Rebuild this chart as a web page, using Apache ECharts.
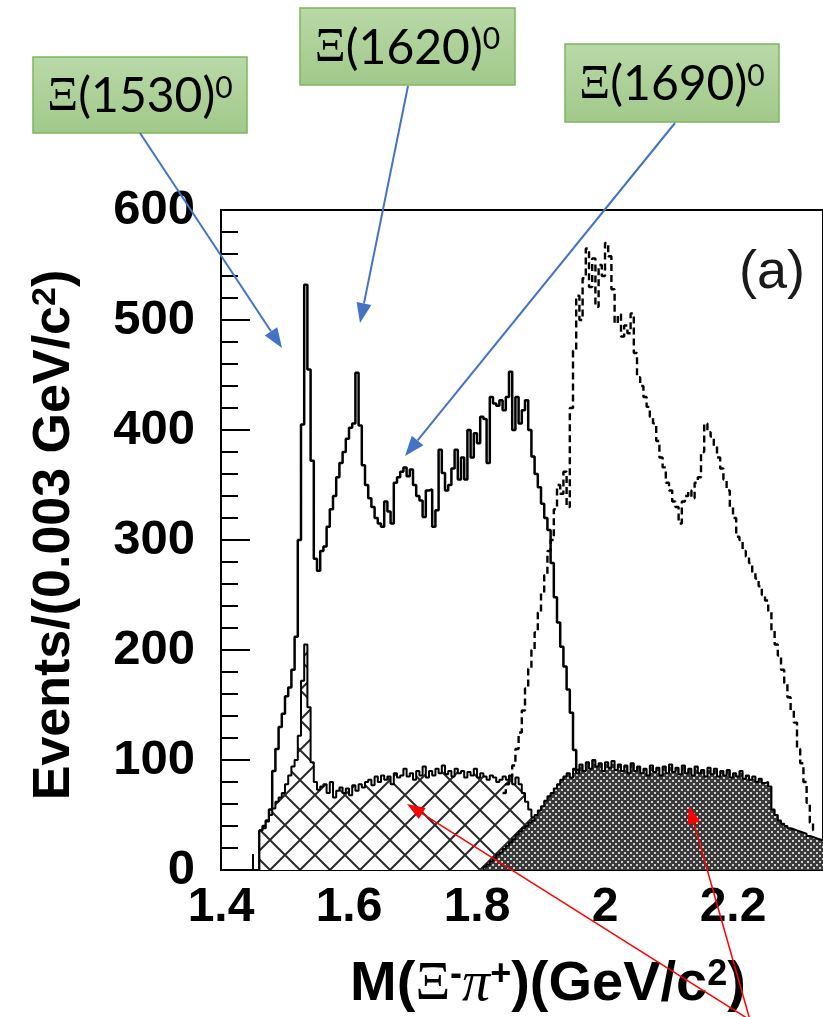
<!DOCTYPE html>
<html>
<head>
<meta charset="utf-8">
<script src="https://cdn.jsdelivr.net/npm/echarts@6/dist/echarts.min.js"></script>
<style>
  html, body { margin: 0; padding: 0; background: #fff; }
  #chart { width: 823px; height: 1017px; }
</style>
</head>
<body>
<div id="chart"></div>
<script>
// Histogram bin width (GeV/c^2) used for all spectra below
const BIN = 0.005;

// Total Xi- pi+ invariant-mass spectrum (solid line), bins from 1.460
const totalStart = 1.460;
const totalCounts = [
  36, 40, 45, 55, 90, 110, 130, 142, 158, 166,
  182, 212, 300, 405, 532, 455, 372, 283, 272, 290,
  294, 312, 328, 340, 357, 370, 380, 392, 402, 406,
  452, 404, 368, 350, 338, 330, 320, 315, 312, 335,
  326, 315, 352, 357, 362, 366, 358, 364, 350, 340,
  336, 321, 345, 346, 312, 327, 382, 361, 345, 350,
  365, 382, 355, 375, 355, 400, 375, 397, 388, 412,
  410, 370, 430, 424, 422, 427, 418, 430, 453, 400,
  430, 406, 418, 427, 400, 376, 360, 348, 333, 320,
  309, 279, 248, 225, 203, 185, 164, 143, 109, 91,
  85
];

// Cross-hatched background, bins from 1.460
const hatchStart = 1.460;
const hatchCounts = [
  36, 38, 44, 50, 56, 62, 66, 70, 78, 86,
  94, 100, 122, 172, 205, 148, 98, 80, 73, 76,
  78, 70, 80, 66, 72, 75, 70, 74, 68, 77,
  72, 78, 75, 80, 82, 77, 85, 80, 86, 82,
  85, 78, 88, 84, 86, 92, 85, 88, 82, 90,
  86, 94, 84, 90, 86, 92, 88, 95, 87, 90,
  85, 92, 88, 90, 84, 89, 86, 92, 84, 88,
  85, 82, 86, 84, 80, 82, 85, 82, 86, 78,
  84, 78, 70, 62, 55, 48, 40, 33, 26, 20,
  14, 9, 5, 2
];

// Dark (dotted) background, bins from 1.810
const darkStart = 1.810;
const darkCounts = [
  3, 5, 8, 11, 14, 16, 19, 22, 25, 28,
  32, 35, 38, 40, 43, 45, 50, 54, 58, 63,
  67, 70, 74, 78, 82, 85, 88, 84, 92, 88,
  96, 90, 98, 92, 100, 94, 97, 90, 98, 93,
  99, 91, 96, 90, 95, 88, 97, 90, 94, 88,
  92, 86, 95, 89, 93, 86, 94, 88, 96, 89,
  93, 87, 95, 88, 92, 86, 94, 88, 91, 85,
  93, 87, 92, 85, 90, 86, 91, 84, 88, 85,
  90, 83, 86, 82, 85, 80, 83, 79, 80, 76,
  55, 50, 45, 42, 40, 38, 37, 36, 35, 34,
  33, 31, 30, 29, 28, 27, 26, 26, 25, 25,
  25
];

// Comparison spectrum (dashed line), bins from 1.840
const dashStart = 1.840;
const dashCounts = [
  70, 78, 85, 95, 110, 125, 145, 165, 183, 200,
  216, 234, 252, 268, 290, 300, 328, 350, 342, 362,
  330, 420, 472, 522, 500, 538, 565, 530, 556, 512,
  550, 540, 570, 558, 528, 497, 505, 485, 495, 488,
  506, 470, 448, 440, 430, 421, 412, 406, 390, 375,
  366, 352, 345, 335, 330, 315, 335, 340, 345, 338,
  352, 357, 380, 406, 398, 394, 385, 375, 365, 355,
  345, 330, 320, 303, 300, 290, 285, 279, 270, 265,
  258, 250, 245, 235, 218, 205, 195, 182, 170, 157,
  145, 134, 110, 97, 80, 61, 43, 36
];

// Axis ranges: x ticks every 0.05, labelled every 0.2
const xRange = { min: 1.4, max: 2.3406, tick: 0.05, labelEvery: 0.2 };
const yRange = { min: 0, max: 600, step: 100 };

// Peak labels
const peakLabels = ['1530', '1620', '1690'];

// Turn bin contents into step-line vertices
function histPoints(start, counts, closed) {
  const pts = [];
  if (closed) pts.push([start, 0]);
  counts.forEach((c, i) => pts.push([+(start + i * BIN).toFixed(4), c]));
  const end = +(start + counts.length * BIN).toFixed(4);
  pts.push([end, closed ? 0 : counts[counts.length - 1]]);
  return pts;
}

// Fill textures
function crossHatch() {
  const s = 30, c = document.createElement('canvas');
  c.width = c.height = s;
  const g = c.getContext('2d');
  g.fillStyle = '#ffffff';
  g.fillRect(0, 0, s, s);
  g.strokeStyle = '#2a2a2a';
  g.lineWidth = 2;
  g.beginPath();
  g.moveTo(-2, -2); g.lineTo(s + 2, s + 2);
  g.moveTo(s + 2, -2); g.lineTo(-2, s + 2);
  g.stroke();
  return c;
}
function dotTexture() {
  const s = 6, c = document.createElement('canvas');
  c.width = c.height = s;
  const g = c.getContext('2d');
  g.fillStyle = '#3a3a3a';
  g.fillRect(0, 0, s, s);
  g.fillStyle = '#cfcfcf';
  g.fillRect(0, 0, 2, 2);
  g.fillRect(3, 3, 2, 2);
  return c;
}

function arrow(x1, y1, x2, y2, color, w, hl, hw) {
  const dx = x2 - x1, dy = y2 - y1, L = Math.hypot(dx, dy);
  const ux = dx / L, uy = dy / L;
  const bx = x2 - ux * hl, by = y2 - uy * hl;
  const px = -uy * hw / 2, py = ux * hw / 2;
  return [
    { type: 'line', z: 100, shape: { x1: x1, y1: y1, x2: bx, y2: by },
      style: { stroke: color, lineWidth: w } },
    { type: 'polygon', z: 100,
      shape: { points: [[x2, y2], [bx + px, by + py], [bx - px, by - py]] },
      style: { fill: color } }
  ];
}

function labelBox(x, y, w, h, mass) {
  return [
    { type: 'rect', z: 90, shape: { x: x, y: y, width: w, height: h },
      style: {
        fill: new echarts.graphic.LinearGradient(0, 0, 0, 1, [
          { offset: 0, color: '#b9d9a8' }, { offset: 1, color: '#a1c98a' }
        ]),
        stroke: '#7fb55e', lineWidth: 1.5
      } },
    { type: 'text', z: 91, x: x + w / 2, y: y + h / 2 + 2,
      style: {
        text: '{xi|Ξ}(' + mass + '){sup|0}',
        align: 'center', verticalAlign: 'middle',
        font: '48px Lato, "Open Sans", sans-serif', fill: '#000',
        rich: {
          xi: { fontFamily: '"Liberation Serif", "DejaVu Serif", serif', fontSize: 48, fill: '#000' },
          sup: { fontFamily: 'Lato, sans-serif', fontSize: 30, verticalAlign: 'top', fill: '#000' }
        }
      } }
  ];
}

function isLabelled(v) {
  const k = v / xRange.labelEvery;
  return Math.abs(k - Math.round(k)) < 1e-6;
}

const FONT = '"Liberation Sans", Arial, Helvetica, sans-serif';
const chart = echarts.init(document.getElementById('chart'), null, { renderer: 'canvas' });

const axisBlack = { color: '#000', width: 2 };

chart.setOption({
  animation: false,
  backgroundColor: '#fff',
  grid: { left: 221, right: 0, top: 210, bottom: 147, show: true,
          borderColor: '#000', borderWidth: 2, backgroundColor: 'transparent' },
  xAxis: {
    type: 'value', min: xRange.min, max: xRange.max, interval: xRange.tick,
    axisLine: { show: true, onZero: false, lineStyle: axisBlack },
    axisTick: { show: true, inside: true, length: 16, lineStyle: axisBlack },
    splitLine: { show: false },
    axisLabel: {
      color: '#000', fontSize: 48, fontWeight: 'bold', fontFamily: FONT, margin: 14,
      showMaxLabel: false, hideOverlap: false,
      formatter: v => isLabelled(v) ? String(+v.toFixed(1)) : ''
    }
  },
  yAxis: {
    type: 'value', min: yRange.min, max: yRange.max, interval: yRange.step,
    axisLine: { show: true, lineStyle: axisBlack },
    axisTick: { show: true, inside: true, length: 29, lineStyle: axisBlack },
    minorTick: { show: true, splitNumber: 5, length: 17, lineStyle: axisBlack },
    splitLine: { show: false },
    axisLabel: { color: '#000', fontSize: 49, fontWeight: 'bold', fontFamily: FONT, margin: 26 }
  },
  series: [
    { name: 'total', type: 'line', step: 'end', z: 2, symbol: 'none',
      data: histPoints(totalStart, totalCounts, true),
      lineStyle: { color: '#000', width: 2.5 } },
    { name: 'hatched', type: 'line', step: 'end', z: 3, symbol: 'none',
      data: histPoints(hatchStart, hatchCounts, true),
      lineStyle: { color: '#000', width: 2 },
      areaStyle: { color: { image: crossHatch(), repeat: 'repeat' }, opacity: 1 } },
    { name: 'dark', type: 'line', step: 'end', z: 4, symbol: 'none',
      data: histPoints(darkStart, darkCounts, true),
      lineStyle: { color: '#000', width: 2 },
      areaStyle: { color: { image: dotTexture(), repeat: 'repeat' }, opacity: 1 } },
    { name: 'dashed', type: 'line', step: 'end', z: 5, symbol: 'none',
      data: histPoints(dashStart, dashCounts, false),
      lineStyle: { color: '#000', width: 2.4, type: [7, 4] } }
  ],
  graphic: [
    // axis titles
    { type: 'text', x: 548, y: 985, z: 50,
      style: {
        text: 'M({sym|Ξ}{sup|-}{pi|π}{sup|+})(GeV/c{sup|2})',
        align: 'center', verticalAlign: 'middle',
        font: 'bold 56px ' + FONT, fill: '#000',
        rich: {
          sym: { fontFamily: '"Liberation Serif", "DejaVu Serif", serif', fontSize: 54, fill: '#000' },
          pi: { fontFamily: '"Liberation Serif", "DejaVu Serif", serif', fontStyle: 'italic', fontSize: 56, fill: '#000' },
          sup: { fontFamily: FONT, fontWeight: 'bold', fontSize: 36, verticalAlign: 'top', fill: '#000' }
        }
      } },
    { type: 'text', x: 55, y: 535, rotation: Math.PI / 2, z: 50,
      style: {
        text: 'Events/(0.003 GeV/c{sup|2})',
        align: 'center', verticalAlign: 'middle',
        font: 'bold 52px ' + FONT, fill: '#000',
        rich: {
          sup: { fontFamily: FONT, fontWeight: 'bold', fontSize: 34, verticalAlign: 'top', fill: '#000' }
        }
      } },
    { type: 'text', x: 772, y: 273, z: 50,
      style: { text: '(a)', align: 'center', verticalAlign: 'middle',
               font: '54px ' + FONT, fill: '#1a1a1a' } },
    // peak labels
    ...labelBox(33, 57, 214, 76, peakLabels[0]),
    ...labelBox(300, 8, 215, 77, peakLabels[1]),
    ...labelBox(565, 44, 214, 78, peakLabels[2]),
    ...arrow(140, 133, 282, 348, '#4472c4', 2, 20, 15),
    ...arrow(408, 86, 360, 323, '#4472c4', 2, 20, 15),
    ...arrow(675, 123, 405, 456, '#4472c4', 2, 20, 15),
    ...arrow(750, 1020, 407, 804, '#ff0000', 1.5, 18, 13),
    ...arrow(750, 1020, 689, 806, '#ff0000', 1.5, 18, 13)
  ]
});
</script>
</body>
</html>
